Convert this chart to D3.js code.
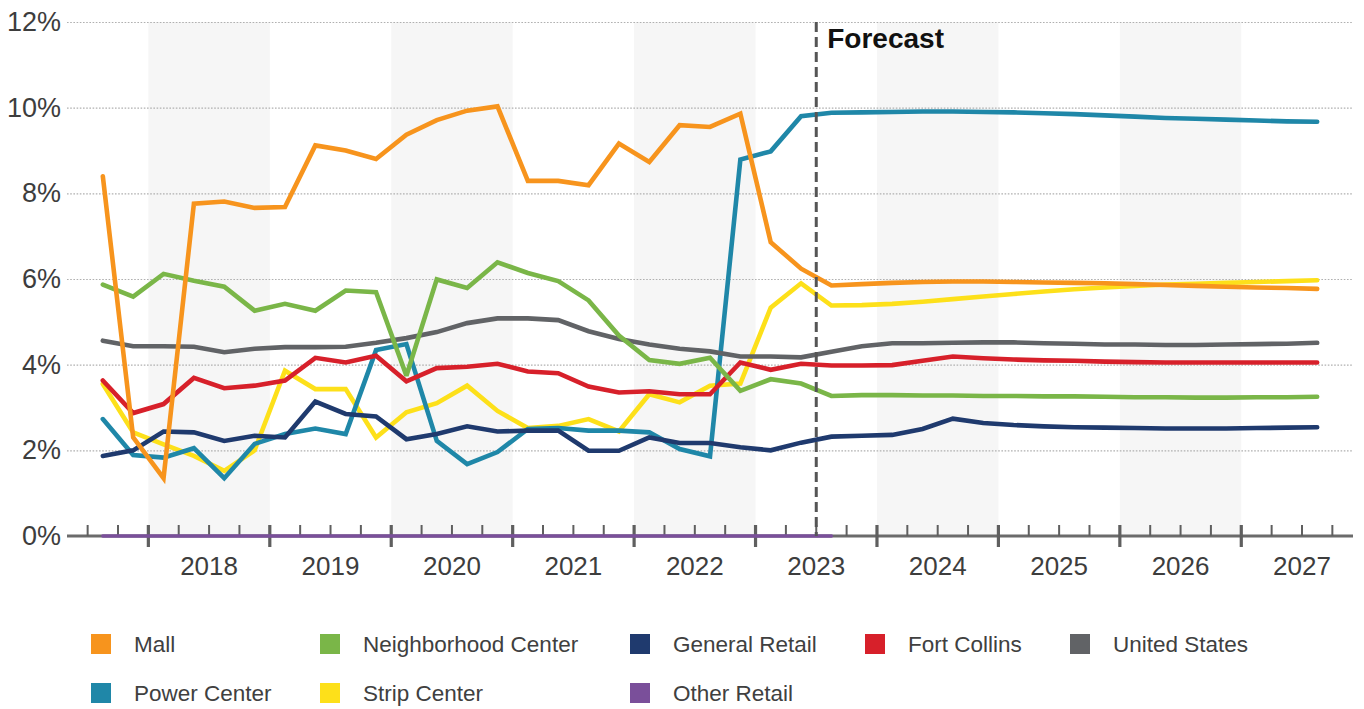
<!DOCTYPE html>
<html>
<head>
<meta charset="utf-8">
<script src="https://cdn.jsdelivr.net/npm/d3@7"></script>
<style>
  html, body { margin: 0; padding: 0; background: #ffffff; }
  svg { display: block; font-family: "Liberation Sans", Arial, sans-serif; }
</style>
</head>
<body>
<svg id="chart" width="1364" height="709"></svg>
<script>
// Quarterly vacancy rates, 2017 Q3 through 2027 Q3 (forecast from 2023 Q3)
const quarters = [
  "2017 Q3","2017 Q4",
  "2018 Q1","2018 Q2","2018 Q3","2018 Q4",
  "2019 Q1","2019 Q2","2019 Q3","2019 Q4",
  "2020 Q1","2020 Q2","2020 Q3","2020 Q4",
  "2021 Q1","2021 Q2","2021 Q3","2021 Q4",
  "2022 Q1","2022 Q2","2022 Q3","2022 Q4",
  "2023 Q1","2023 Q2","2023 Q3","2023 Q4",
  "2024 Q1","2024 Q2","2024 Q3","2024 Q4",
  "2025 Q1","2025 Q2","2025 Q3","2025 Q4",
  "2026 Q1","2026 Q2","2026 Q3","2026 Q4",
  "2027 Q1","2027 Q2","2027 Q3"
];
const forecastStart = "2023 Q3";

const mall = [8.40, 2.30, 1.35, 7.76, 7.81, 7.66, 7.68, 9.12, 9.00, 8.80,
  9.37, 9.71, 9.93, 10.03, 8.29, 8.29, 8.19, 9.16, 8.73, 9.59,
  9.55, 9.86, 6.86, 6.24, 5.85,
  5.88, 5.91, 5.93, 5.94, 5.94, 5.93, 5.92, 5.91, 5.90, 5.88, 5.86, 5.84, 5.82, 5.80, 5.79, 5.77];
const neighborhoodCenter = [5.87, 5.59, 6.12, 5.96, 5.82, 5.26, 5.42, 5.26, 5.73, 5.69,
  3.74, 5.99, 5.79, 6.39, 6.14, 5.95, 5.50, 4.68, 4.11, 4.02,
  4.16, 3.39, 3.66, 3.56, 3.27,
  3.29, 3.29, 3.28, 3.28, 3.27, 3.27, 3.26, 3.26, 3.25, 3.24, 3.24, 3.23, 3.23, 3.24, 3.24, 3.25];
const generalRetail = [1.87, 2.00, 2.44, 2.42, 2.22, 2.34, 2.30, 3.14, 2.85, 2.79,
  2.26, 2.38, 2.56, 2.44, 2.46, 2.46, 1.99, 1.99, 2.30, 2.17,
  2.17, 2.07, 2.00, 2.18, 2.32,
  2.34, 2.36, 2.50, 2.74, 2.64, 2.59, 2.56, 2.54, 2.53, 2.52, 2.51, 2.51, 2.51, 2.52, 2.53, 2.54];
const fortCollins = [3.63, 2.87, 3.08, 3.69, 3.45, 3.51, 3.63, 4.16, 4.05, 4.21,
  3.61, 3.92, 3.95, 4.02, 3.84, 3.80, 3.49, 3.35, 3.38, 3.31,
  3.31, 4.05, 3.88, 4.02, 3.98,
  3.98, 3.99, 4.09, 4.19, 4.15, 4.12, 4.10, 4.09, 4.07, 4.06, 4.05, 4.05, 4.05, 4.05, 4.05, 4.05];
const unitedStates = [4.56, 4.43, 4.43, 4.42, 4.29, 4.37, 4.41, 4.41, 4.42, 4.51,
  4.62, 4.76, 4.97, 5.08, 5.08, 5.04, 4.78, 4.60, 4.47, 4.37,
  4.31, 4.19, 4.19, 4.17, 4.30,
  4.43, 4.50, 4.50, 4.51, 4.52, 4.52, 4.50, 4.49, 4.47, 4.47, 4.46, 4.46, 4.47, 4.48, 4.49, 4.51];
const powerCenter = [2.73, 1.89, 1.83, 2.05, 1.35, 2.15, 2.38, 2.51, 2.38, 4.34,
  4.48, 2.22, 1.68, 1.96, 2.50, 2.52, 2.46, 2.46, 2.42, 2.03,
  1.86, 8.79, 8.98, 9.80, 9.88,
  9.89, 9.90, 9.91, 9.91, 9.90, 9.89, 9.87, 9.85, 9.82, 9.79, 9.76, 9.74, 9.72, 9.70, 9.68, 9.67];
const stripCenter = [3.55, 2.42, 2.14, 1.87, 1.52, 2.00, 3.86, 3.43, 3.43, 2.30,
  2.89, 3.10, 3.51, 2.92, 2.52, 2.57, 2.73, 2.44, 3.31, 3.12,
  3.51, 3.56, 5.33, 5.90, 5.38,
  5.39, 5.42, 5.47, 5.53, 5.59, 5.65, 5.71, 5.76, 5.80, 5.84, 5.87, 5.89, 5.91, 5.93, 5.95, 5.97];
const otherRetail = [0, 0, 0, 0, 0, 0, 0, 0, 0, 0,
  0, 0, 0, 0, 0, 0, 0, 0, 0, 0,
  0, 0, 0, 0, 0];

const yearLabels = ["2018","2019","2020","2021","2022","2023","2024","2025","2026","2027"];
const yTicks = [0, 2, 4, 6, 8, 10, 12];

const series = [
  { name: "Mall",                values: mall,               color: "#f7941d" },
  { name: "Neighborhood Center", values: neighborhoodCenter, color: "#7ab648" },
  { name: "General Retail",      values: generalRetail,      color: "#1f3a6e" },
  { name: "Fort Collins",        values: fortCollins,        color: "#d7202a" },
  { name: "United States",       values: unitedStates,       color: "#616366" },
  { name: "Power Center",        values: powerCenter,        color: "#1f87a8" },
  { name: "Strip Center",        values: stripCenter,        color: "#fde01a" },
  { name: "Other Retail",        values: otherRetail,        color: "#7a4f9a" }
];

// Fractional-year position of a quarter's centre / start
function quarterCenter(label) {
  const [y, q] = label.split(" Q").map(Number);
  return y + (q - 0.5) / 4;
}
function quarterStart(label) {
  const [y, q] = label.split(" Q").map(Number);
  return y + (q - 1) / 4;
}

const svg = d3.select("#chart");
const plot = { left: 67, right: 1353, top: 22, bottom: 536 };

const x = d3.scaleLinear().domain([2017.33, 2027.92]).range([plot.left, plot.right]);
const y = d3.scaleLinear().domain([0, 12]).range([plot.bottom, plot.top]);

// Alternating year shading
const shadedYears = yearLabels.filter((d, i) => i % 2 === 0).map(Number);
svg.append("g").selectAll("rect")
  .data(shadedYears)
  .join("rect")
  .attr("x", d => x(d))
  .attr("y", y(12))
  .attr("width", d => x(d + 1) - x(d))
  .attr("height", y(0) - y(12))
  .attr("fill", "#f6f6f6");

// Horizontal grid (dotted) and y labels
const yAxis = d3.axisLeft(y).tickValues(yTicks).tickSize(-(plot.right - plot.left)).tickFormat(d => d + "%").tickPadding(6);
const gy = svg.append("g").attr("transform", `translate(${plot.left},0)`).call(yAxis);
gy.select(".domain").remove();
gy.selectAll(".tick line")
  .attr("stroke", "#b0b0b0")
  .attr("stroke-width", 1.2)
  .attr("stroke-dasharray", "1.6,1.6")
  .filter(d => d === 0).remove();
gy.selectAll(".tick text")
  .attr("x", -6)
  .attr("fill", "#3d3d3d")
  .style("font-size", "27px")
  .style("font-family", "'Liberation Sans', Arial, sans-serif");

// X axis: quarter ticks, with longer ticks at year boundaries
const quarterTicks = d3.range(2017.5, 2027.76, 0.25);
const gx = svg.append("g");
gx.append("line")
  .attr("x1", plot.left).attr("x2", plot.right)
  .attr("y1", y(0)).attr("y2", y(0))
  .attr("stroke", "#6b6b6b").attr("stroke-width", 3);
gx.selectAll("line.qt")
  .data(quarterTicks)
  .join("line")
  .attr("class", "qt")
  .attr("x1", d => x(d)).attr("x2", d => x(d))
  .attr("y1", y(0) - 11)
  .attr("y2", d => Number.isInteger(d) ? y(0) + 11 : y(0))
  .attr("stroke", "#5f5f5f")
  .attr("stroke-width", d => Number.isInteger(d) ? 3.2 : 2);
gx.selectAll("text")
  .data(yearLabels)
  .join("text")
  .attr("x", d => x(+d + 0.5))
  .attr("y", 575)
  .attr("text-anchor", "middle")
  .attr("fill", "#3d3d3d")
  .style("font-size", "26px")
  .text(d => d);

// Series lines, first legend entry drawn on top
const line = d3.line()
  .x((d, i) => x(quarterCenter(quarters[i])))
  .y(d => y(d));

svg.append("g").selectAll("path")
  .data(series.slice().reverse())
  .join("path")
  .attr("d", d => line(d.values))
  .attr("fill", "none")
  .attr("stroke", d => d.color)
  .attr("stroke-width", d => d.name === "Other Retail" ? 3.5 : 4.6)
  .attr("stroke-linejoin", "miter")
  .attr("stroke-miterlimit", 3)
  .attr("stroke-linecap", "round");

// Forecast divider
const fx = x(quarterStart(forecastStart));
svg.append("line")
  .attr("x1", fx).attr("x2", fx)
  .attr("y1", y(12)).attr("y2", y(0))
  .attr("stroke", "#555555")
  .attr("stroke-width", 3)
  .attr("stroke-dasharray", "10,5");
svg.append("text")
  .attr("x", fx + 11)
  .attr("y", 48)
  .attr("fill", "#111111")
  .style("font-size", "28px")
  .style("font-weight", "bold")
  .text("Forecast");

// Legend
const legendPos = [
  [91, 644], [320, 644], [630, 644], [865, 644], [1070, 644],
  [91, 693], [320, 693], [630, 693]
];
const legend = svg.append("g").selectAll("g")
  .data(series)
  .join("g")
  .attr("transform", (d, i) => `translate(${legendPos[i][0]},${legendPos[i][1]})`);
legend.append("rect")
  .attr("x", 0).attr("y", -10)
  .attr("width", 20).attr("height", 20)
  .attr("fill", d => d.color);
legend.append("text")
  .attr("x", 43).attr("y", 0)
  .attr("dy", "0.35em")
  .attr("fill", "#404040")
  .style("font-size", "22.5px")
  .text(d => d.name);
</script>
</body>
</html>
